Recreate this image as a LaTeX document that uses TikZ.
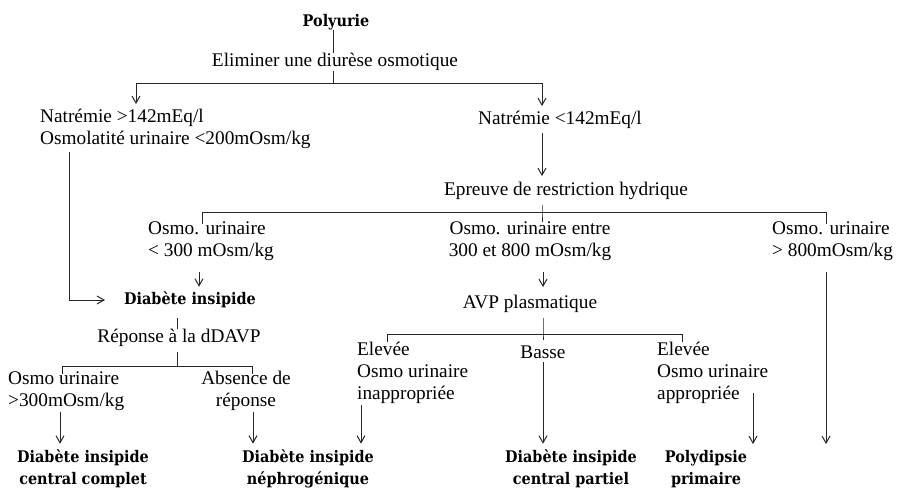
\documentclass[tikz,border=0pt]{standalone}
\usepackage{fontspec}
\setmainfont{Liberation Serif}
\newfontfamily\bfam{DejaVu Serif}[FakeStretch=0.9]
\usetikzlibrary{arrows.meta}
\begin{document}
\begin{tikzpicture}[x=1pt,y=-1pt,
  every node/.style={inner sep=0pt, text=black},
  txt/.style={font=\fontsize{19.3}{22}\selectfont},
  bld/.style={font=\bfam\bfseries\fontsize{16}{22}\selectfont, align=center},
  ln/.style={line width=1pt, draw=black!85},
  arr/.style={ln, -{Straight Barb[length=7pt,width=8pt]}}]
\fill[white] (0,0) rectangle (897,488);
\useasboundingbox (0,0) rectangle (897,488);

% nodes
\node[bld] (poly) at (336,22) {Polyurie};
\node[txt] (elim) at (335,62) {Eliminer une diurèse osmotique};
\node[txt, anchor=west, align=left] (nat1) at (40,129) {Natrémie >142mEq/l\\Osmolatité urinaire <200mOsm/kg};
\node[txt] (nat2) at (560,120) {Natrémie <142mEq/l};
\node[txt] (epr) at (566,191) {Epreuve de restriction hydrique};
\node[txt, anchor=west, align=left] (ou1) at (148,241) {Osmo. urinaire\\< 300 mOsm/kg};
\node[txt, align=center] (ou2) at (530,241) {Osmo. urinaire entre\\300 et 800 mOsm/kg};
\node[txt, anchor=west, align=left] (ou3) at (772,241) {Osmo. urinaire\\> 800mOsm/kg};
\node[bld] (di) at (190,300) {Diabète insipide};
\node[txt] (rep) at (179,338) {Réponse à la dDAVP};
\node[txt] (avp) at (530,304) {AVP plasmatique};
\node[txt, anchor=west, align=left] (ou4) at (8,391) {Osmo urinaire\\>300mOsm/kg};
\node[txt, align=center] (abs) at (246,391) {Absence de\\réponse};
\node[txt, anchor=west, align=left] (el1) at (357,373) {Elevée\\Osmo urinaire\\inappropriée};
\node[txt] (basse) at (543,352) {Basse};
\node[txt, anchor=west, align=left] (el2) at (657,373) {Elevée\\Osmo urinaire\\appropriée};
\node[bld] (dicc) at (83,469) {Diabète insipide\\central complet};
\node[bld] (din) at (308,469) {Diabète insipide\\néphrogénique};
\node[bld] (dicp) at (571,469) {Diabète insipide\\central partiel};
\node[bld] (pp) at (706,469) {Polydipsie\\primaire};

% junction coordinates
\coordinate (j0) at (333,83);
\coordinate (jl) at (136,83);
\coordinate (jr) at (542,83);
\coordinate (jm) at (542,212);
\coordinate (ja) at (202,212);
\coordinate (jb) at (826,212);
\coordinate (xl) at (69,0);
\coordinate (x1) at (199,0);
\coordinate (jd) at (177,366);
\coordinate (jdl) at (62,366);
\coordinate (jdr) at (252,366);
\coordinate (x4) at (60,0);
\coordinate (x5) at (253,0);
\coordinate (jv) at (543,334);
\coordinate (jvl) at (387,334);
\coordinate (jvr) at (682,334);
\coordinate (x6) at (361,0);
\coordinate (e2s) at (753,393);

% connectors
\draw[ln] (poly.south -| j0) -- (elim.north -| j0);
\draw[ln] (elim.south -| j0) -- (j0);
\draw[ln] (jl) -- (jr);
\draw[arr, shorten >=5pt] (jl) -- (jl |- nat1.north);
\draw[arr, shorten >=5pt] (jr) -- (jr |- nat2.north);
\draw[arr, shorten <=4pt, shorten >=6pt] (nat2.south -| jr) -- (epr.north -| jr);
\draw[ln, shorten <=5pt] (epr.south -| jm) -- (jm) -- ++(0,10);
\draw[ln] (ja) ++(0,12) -- (ja) -- (jb) -- ++(0,12);
\draw[arr, shorten <=3.5pt, shorten >=19pt] (xl |- nat1.south) |- (di.west);
\draw[arr, shorten <=11pt, shorten >=5pt] (x1 |- ou1.south) -- (x1 |- di.north);
\draw[ln, shorten <=10pt] (di.south -| jd) -- (jd |- rep.north);
\draw[ln, shorten <=5pt] (rep.south -| jd) -- (jd);
\draw[ln] (jdl) ++(0,8) -- (jdl) -- (jdr) -- ++(0,8);
\draw[arr, shorten <=1pt, shorten >=6pt] (x4 |- ou4.south) -- (x4 |- dicc.north);
\draw[arr, shorten <=1pt, shorten >=6pt] (x5 |- abs.south) -- (x5 |- din.north);
\draw[arr, shorten <=11pt, shorten >=8pt] (jv |- ou2.south) -- (jv |- avp.north);
\draw[ln, shorten <=5pt] (avp.south -| jv) -- (jv) -- ++(0,6);
\draw[ln] (jvl) ++(0,8) -- (jvl) -- (jvr) -- ++(0,8);
\draw[arr, shorten <=3.5pt, shorten >=6pt] (basse.south) -- (basse.south |- dicp.north);
\draw[arr, shorten <=1pt, shorten >=6pt] (x6 |- el1.south) -- (x6 |- din.north);
\draw[arr, shorten >=6pt] (e2s) -- (e2s |- pp.north);
\draw[arr, shorten <=11pt, shorten >=6pt] (jb |- ou3.south) -- (jb |- pp.north);
\end{tikzpicture}
\end{document}
